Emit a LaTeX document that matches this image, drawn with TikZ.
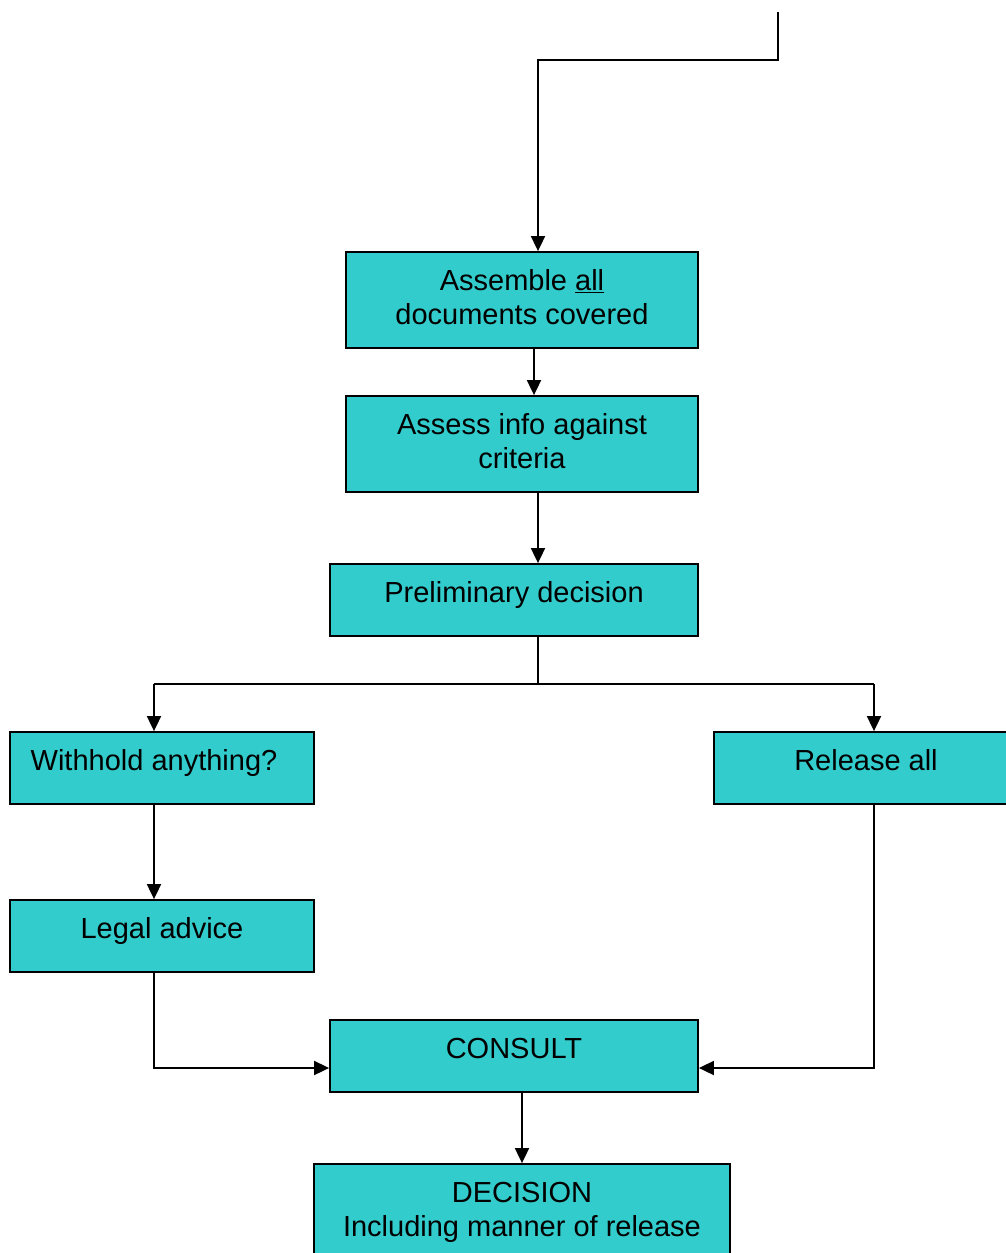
\documentclass[tikz,border=0pt]{standalone}
\usepackage{fontspec}
\setmainfont{Liberation Sans}
\usetikzlibrary{arrows.meta}
\definecolor{boxfill}{HTML}{33CCCC}
\tikzset{
  box/.style={draw=black, line width=1.8pt, fill=boxfill, inner sep=0pt},
  txtm/.style={font=\fontsize{29}{34}\selectfont, align=center, inner sep=0pt},
  txt/.style={txtm, text height=21pt, text depth=6pt},
  conn/.style={line width=1.8pt, -{Triangle[length=15pt,width=14pt]}},
  line/.style={line width=1.8pt}
}
\begin{document}
\begin{tikzpicture}[x=1pt,y=-1pt]
\useasboundingbox (0,0) rectangle (1006,1253);
% boxes
\node[box, minimum width=352pt, minimum height=96pt] (assemble) at (522,300) {};
\node[txtm] (assembletxt) at (522,297) {Assemble \underline{all}\\documents covered};
\node[box, minimum width=352pt, minimum height=96pt] (assess) at (522,444) {};
\node[txtm] (assesstxt) at (522,441) {Assess info against\\criteria};
\node[box, minimum width=368pt, minimum height=72pt] (prelim) at (514,600) {};
\node[txt] (prelimtxt) at (514,595) {Preliminary decision};
\node[box, minimum width=304pt, minimum height=72pt] (withhold) at (162,768) {};
\node[txt] (withholdtxt) at (154,763) {Withhold anything?};
\node[box, minimum width=304pt, minimum height=72pt] (release) at (866,768) {};
\node[txt] (releasetxt) at (866,763) {Release all};
\node[box, minimum width=304pt, minimum height=72pt] (legal) at (162,936) {};
\node[txt] (legaltxt) at (162,931) {Legal advice};
\node[box, minimum width=368pt, minimum height=72pt] (consult) at (514,1056) {};
\node[txt] (consulttxt) at (514,1051) {CONSULT};
\node[box, minimum width=416pt, minimum height=120pt] (decision) at (522,1224) {};
\node[txtm] (decisiontxt) at (522,1212) {DECISION\\Including manner of release};
% coordinates
\coordinate (topstart) at (778,12);
\coordinate (topbend1) at (778,60);
\coordinate (topbend2) at (538,60);
\coordinate (split) at (538,684);
\coordinate (splitL) at (154,684);
\coordinate (splitR) at (874,684);
% connectors
\draw[conn] (topstart) -- (topbend1) -- (topbend2) -- (assemble.north -| topbend2);
\draw[conn] (assemble.south -| 534,0) -- (assess.north -| 534,0);
\draw[conn] (assess.south -| 538,0) -- (prelim.north -| 538,0);
\draw[line] (prelim.south -| split) -- (split);
\draw[line] (splitL) -- (splitR);
\draw[conn] (splitL) -- (withhold.north -| splitL);
\draw[conn] (splitR) -- (release.north -| splitR);
\draw[conn] (withhold.south -| splitL) -- (legal.north -| splitL);
\draw[conn] (legal.south -| splitL) |- (consult.west |- 0,1068);
\draw[conn] (release.south -| splitR) |- (consult.east |- 0,1068);
\draw[conn] (consult.south -| 522,0) -- (decision.north -| 522,0);
\end{tikzpicture}
\end{document}
